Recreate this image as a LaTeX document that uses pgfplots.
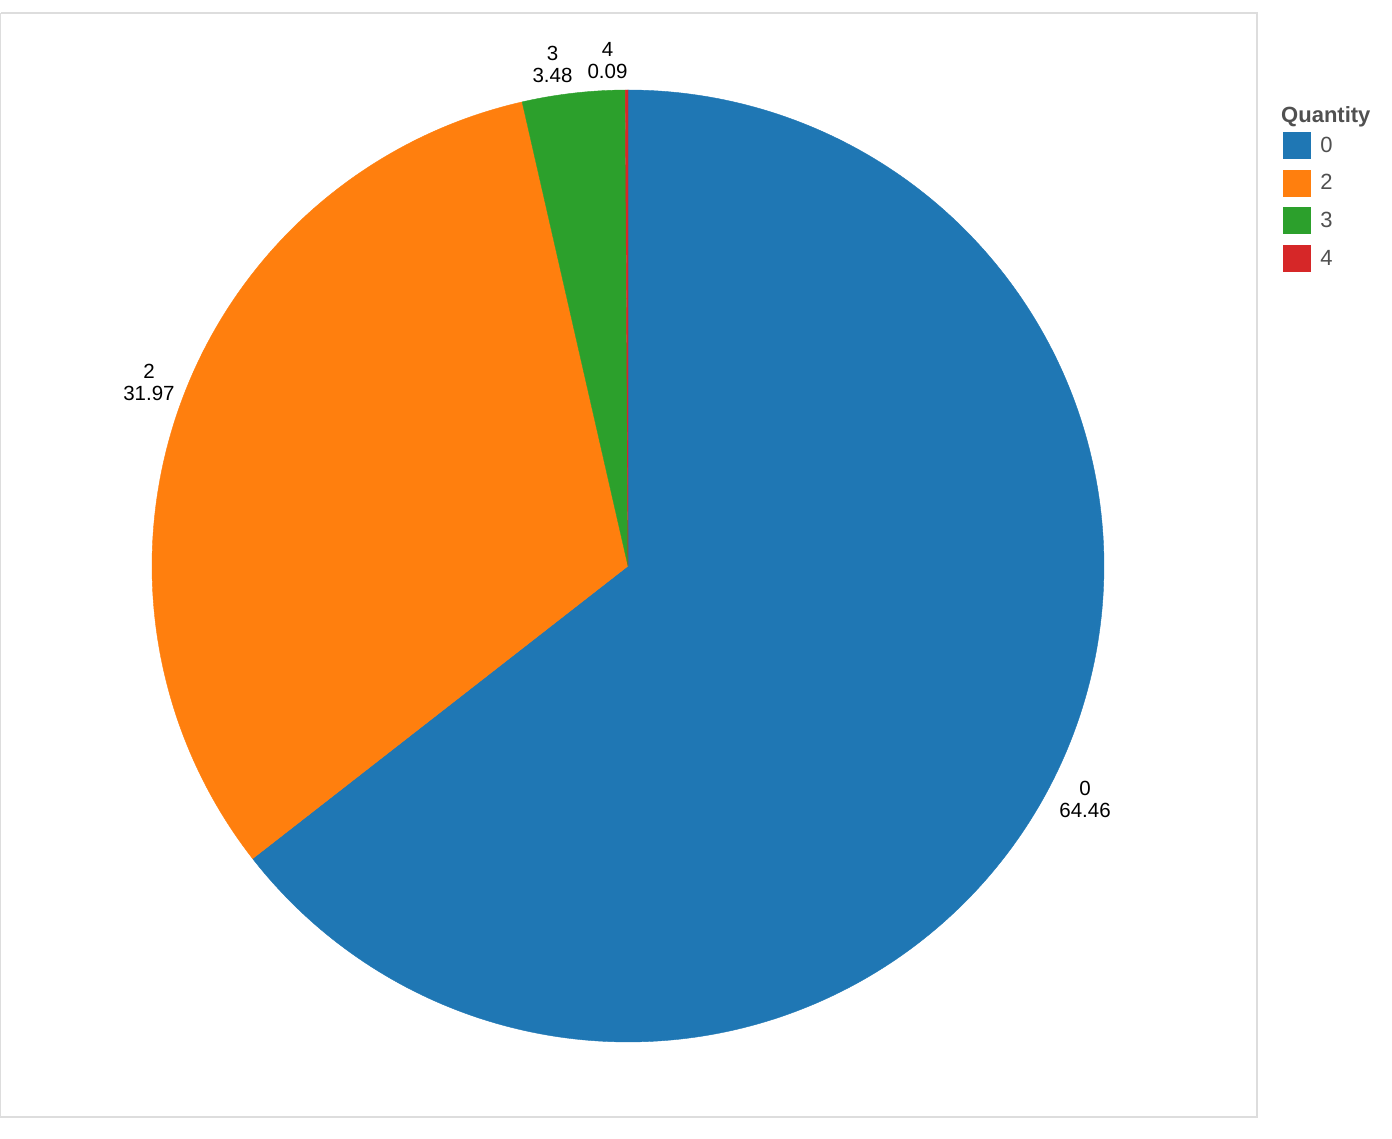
\documentclass[border=0pt]{standalone}
\usepackage{fontspec}
\setmainfont{Liberation Sans}
\usepackage{pgfplots}
\usepackage{pgfplotstable}
\pgfplotsset{compat=1.18}

\definecolor{cA}{HTML}{1F77B4}
\definecolor{cB}{HTML}{FF7F0E}
\definecolor{cC}{HTML}{2CA02C}
\definecolor{cD}{HTML}{D62728}
\definecolor{framegray}{HTML}{DDDDDD}
\definecolor{leggray}{HTML}{505050}

% share of each quantity (percent), colour, label centre (px, y down negative)
\pgfplotstableread{
lbl value col lx ly
0 64.46 cA 1085 -799.5
2 31.97 cB 149 -382
3 3.48 cC 552.5 -64
4 0.09 cD 607.5 -61
}\piedata

\newcommand{\slicefont}{\fontsize{20.5}{22}\selectfont}

\begin{document}
\begin{tikzpicture}
\useasboundingbox (0,0) rectangle (1392pt,1139pt);
\begin{axis}[
    x=1pt, y=1pt, scale only axis,
    xmin=0, xmax=1392, ymin=-1139, ymax=0,
    hide axis, clip=false,
    legend style={at={(axis cs:1283,-132)}, anchor=north west,
        draw=none, fill=none, inner sep=0pt, outer sep=0pt,
        row sep=11.3pt, column sep=0pt,
        nodes={inner sep=0pt, text=leggray, font=\fontsize{22}{26}\selectfont}},
    legend cell align=left,
    legend image code/.code={%
        \fill[#1] (0pt,-13pt) rectangle (27pt,13pt);
        \path (37pt,0pt);},
]
% chart frame
\addplot[draw=framegray, line width=1.5pt, forget plot]
    coordinates {(0.75,-13) (1257,-13) (1257,-1117) (0.75,-1117) (0.75,-13)};

\def\cum{0}
\pgfplotsforeachungrouped \i in {0,...,3}{%
    \pgfplotstablegetelem{\i}{lbl}\of\piedata \let\l\pgfplotsretval
    \pgfplotstablegetelem{\i}{value}\of\piedata \let\v\pgfplotsretval
    \pgfplotstablegetelem{\i}{col}\of\piedata \let\c\pgfplotsretval
    \pgfplotstablegetelem{\i}{lx}\of\piedata \let\lx\pgfplotsretval
    \pgfplotstablegetelem{\i}{ly}\of\piedata \let\ly\pgfplotsretval
    \pgfmathsetmacro\aA{90-3.6*\cum}
    \pgfmathsetmacro\cum{\cum+\v}
    \pgfmathsetmacro\aB{90-3.6*\cum}
    \edef\cmd{%
        \noexpand\addplot[fill=\c, draw=\c, line width=0.4pt,
            domain=\aB:\aA, samples=240]
            ({628+476*cos(x)},{-566+476*sin(x)}) -- (axis cs:628,-566) -- cycle;
        \noexpand\addlegendentry{\l}
        \noexpand\node[align=center, inner sep=0pt, font=\noexpand\slicefont]
            at (axis cs:\lx,\ly) {\l\noexpand\\\v};
    }%
    \cmd
}

\node[anchor=base west, inner sep=0pt, text=leggray,
      font=\fontsize{22}{26}\selectfont\bfseries]
    at (axis cs:1281,-123) {Quantity};
\end{axis}
\end{tikzpicture}
\end{document}
